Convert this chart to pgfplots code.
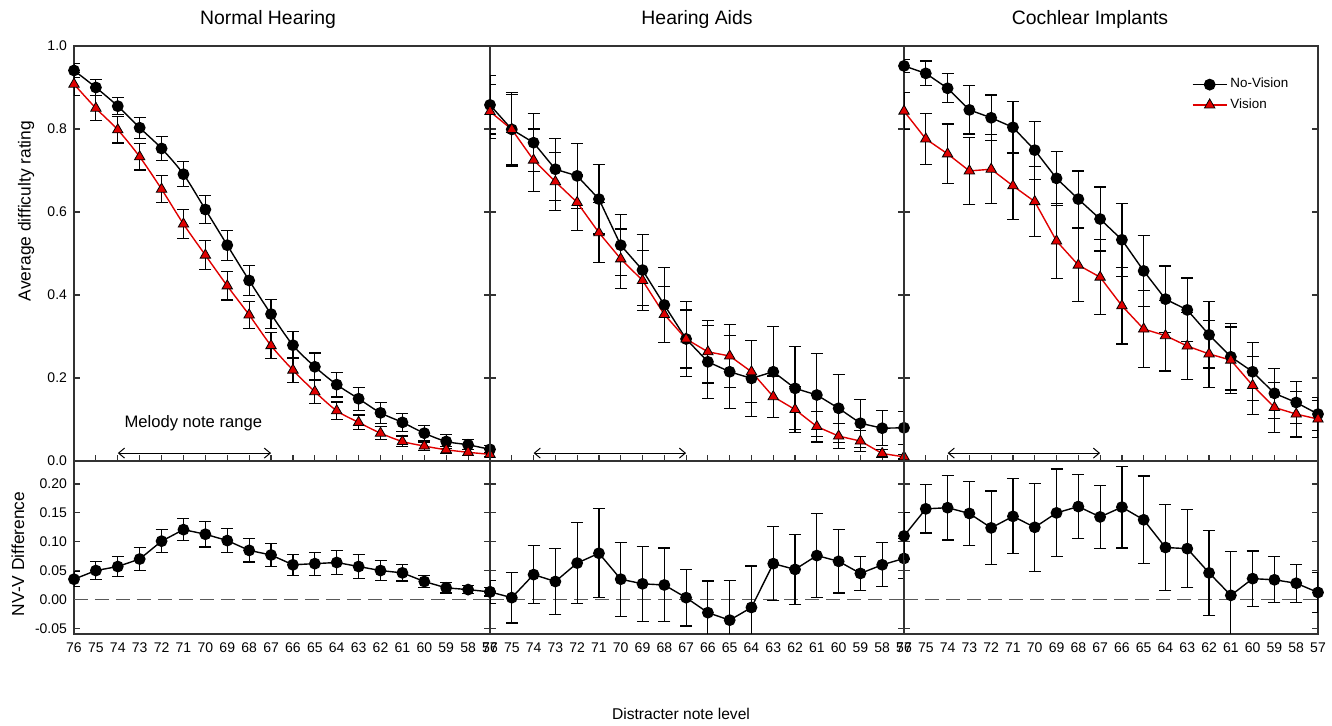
\documentclass[border=0pt]{standalone}
\usepackage{pgfplots}
\pgfplotsset{compat=1.18}
\usepackage{pgfplotstable}
\usepackage{fontspec}
\setmainfont{Liberation Sans}
\usetikzlibrary{arrows.meta}
\definecolor{axgray}{HTML}{333333}
\definecolor{vred}{HTML}{E00000}

\pgfplotstableread{
x nv nve v ve d de
76 0.941 0.016 0.908 0.028 0.035 0.013
75 0.900 0.020 0.850 0.030 0.050 0.016
74 0.855 0.020 0.798 0.032 0.057 0.017
73 0.803 0.025 0.733 0.032 0.070 0.020
72 0.753 0.028 0.655 0.033 0.101 0.020
71 0.691 0.030 0.571 0.035 0.121 0.019
70 0.606 0.033 0.496 0.035 0.113 0.022
69 0.520 0.036 0.422 0.034 0.102 0.021
68 0.435 0.036 0.352 0.033 0.085 0.020
67 0.354 0.035 0.278 0.031 0.077 0.020
66 0.279 0.033 0.219 0.029 0.060 0.018
65 0.227 0.033 0.167 0.028 0.062 0.020
64 0.184 0.030 0.121 0.021 0.064 0.021
63 0.150 0.028 0.093 0.018 0.057 0.021
62 0.116 0.025 0.067 0.016 0.050 0.017
61 0.093 0.022 0.047 0.013 0.046 0.014
60 0.067 0.018 0.036 0.010 0.031 0.011
59 0.047 0.017 0.027 0.008 0.020 0.009
58 0.039 0.012 0.021 0.007 0.017 0.007
57 0.028 0.010 0.016 0.005 0.013 0.007
}\tNH

\pgfplotstableread{
x nv nve v ve d de
76 0.858 0.070 0.842 0.065 0.013 0.020
75 0.799 0.088 0.799 0.085 0.003 0.044
74 0.767 0.070 0.725 0.075 0.043 0.050
73 0.703 0.075 0.673 0.070 0.031 0.057
72 0.687 0.078 0.623 0.068 0.063 0.070
71 0.631 0.084 0.550 0.072 0.080 0.077
70 0.520 0.074 0.487 0.072 0.035 0.064
69 0.460 0.085 0.435 0.073 0.027 0.065
68 0.376 0.091 0.353 0.068 0.025 0.064
67 0.294 0.090 0.294 0.070 0.003 0.049
66 0.239 0.088 0.263 0.075 -0.023 0.055
65 0.215 0.088 0.253 0.075 -0.036 0.069
64 0.199 0.092 0.215 0.075 -0.014 0.072
63 0.215 0.110 0.155 0.050 0.062 0.064
62 0.175 0.100 0.124 0.055 0.052 0.061
61 0.159 0.100 0.083 0.037 0.076 0.073
60 0.127 0.082 0.060 0.030 0.066 0.055
59 0.091 0.058 0.048 0.025 0.045 0.030
58 0.079 0.042 0.018 0.010 0.060 0.038
57 0.080 0.040 0.010 0.005 0.071 0.035
}\tHA

\pgfplotstableread{
x nv nve v ve d de
76 0.952 0.016 0.843 0.045 0.110 0.040
75 0.934 0.030 0.776 0.061 0.157 0.042
74 0.898 0.035 0.740 0.072 0.159 0.056
73 0.846 0.058 0.699 0.080 0.149 0.055
72 0.827 0.055 0.703 0.083 0.124 0.064
71 0.804 0.063 0.663 0.081 0.144 0.065
70 0.749 0.070 0.625 0.084 0.125 0.076
69 0.681 0.065 0.530 0.090 0.150 0.076
68 0.631 0.068 0.472 0.088 0.161 0.055
67 0.583 0.077 0.443 0.090 0.143 0.055
66 0.533 0.088 0.374 0.092 0.160 0.071
65 0.458 0.085 0.318 0.093 0.138 0.076
64 0.390 0.080 0.302 0.085 0.090 0.074
63 0.364 0.077 0.277 0.080 0.088 0.068
62 0.304 0.080 0.258 0.080 0.046 0.074
61 0.251 0.080 0.243 0.080 0.007 0.076
60 0.215 0.070 0.182 0.070 0.036 0.048
59 0.163 0.060 0.129 0.060 0.034 0.040
58 0.141 0.050 0.113 0.055 0.028 0.033
57 0.113 0.040 0.101 0.045 0.012 0.035
}\tCI

\tikzset{
  melody/.style={line width=0.5pt, {Straight Barb[length=3pt,width=5pt]}-{Straight Barb[length=3pt,width=5pt]}},
}

\pgfplotsset{
  panel/.style={scale only axis, anchor=south west, xmin=57, xmax=76, x dir=reverse,
    xtick={57,58,...,76}, tick align=inside, axis line style={axgray, line width=0.8pt},
    major tick style={axgray, line width=0.6pt}, major tick length=3pt,
    ticklabel style={font=\fontsize{7}{8}\selectfont},
    /pgf/number format/assume math mode=true, clip marker paths=false},
  toppanel/.style={panel, width=#1, height=207.5pt, ymin=0, ymax=1, xtick pos=bottom,
    ytick={0,0.2,0.4,0.6,0.8,1.0}, xticklabels={}, yticklabels={}},
  botpanel/.style={panel, width=#1, height=86.5pt, ymin=-0.06, ymax=0.24,
    ytick={-0.05,0,0.05,0.1,0.15,0.2}, yticklabels={}, x tick style={draw=none},
    xticklabel style={yshift=-1pt}},
  nvplot/.style={black, line width=0.7pt, mark=*, mark size=2.6pt, mark options={solid, black},
    error bars/.cd, y dir=both, y explicit, error bar style={black, line width=0.6pt},
    error mark options={rotate=90, mark size=3pt, black, line width=0.6pt}},
  vplot/.style={vred, line width=0.7pt, mark=triangle*, mark size=3pt,
    mark options={solid, fill=vred, draw=black, line width=0.4pt},
    error bars/.cd, y dir=both, y explicit, error bar style={black, line width=0.6pt},
    error mark options={rotate=90, mark size=3pt, black, line width=0.6pt}},
  zeroline/.style={black!65, line width=0.6pt, dash pattern=on 7pt off 3.5pt, forget plot},
}

\begin{document}
\begin{tikzpicture}
\useasboundingbox (0,0) rectangle (666pt,363pt);

% ---------- top panels ----------
\begin{axis}[toppanel=208pt, at={(37pt,132.5pt)},
  yticklabels={0.0,0.2,0.4,0.6,0.8,1.0}]
  \addplot[smooth, nvplot] table[x=x, y=nv, y error=nve] {\tNH};
  \addplot[smooth, vplot] table[x=x, y=v, y error=ve] {\tNH};
  \draw[melody] (axis cs:74,0.019) -- (axis cs:67,0.019);
  \node[font=\fontsize{8.3}{10}\selectfont] at (axis cs:70.55,0.092) {Melody note range};
\end{axis}

\begin{axis}[toppanel=207pt, at={(245pt,132.5pt)}]
  \addplot[nvplot] table[x=x, y=nv, y error=nve] {\tHA};
  \addplot[vplot] table[x=x, y=v, y error=ve] {\tHA};
  \draw[melody] (axis cs:74,0.019) -- (axis cs:67,0.019);
\end{axis}

\begin{axis}[toppanel=207pt, at={(452pt,132.5pt)},
  legend style={draw=none, fill=none, at={(0.68,0.94)}, anchor=north west,
    font=\fontsize{6.7}{8}\selectfont, row sep=0.8pt, nodes={inner sep=1.5pt}},
  legend cell align=left]
  \addplot[nvplot] table[x=x, y=nv, y error=nve] {\tCI};
  \addlegendentry{No-Vision}
  \addplot[vplot] table[x=x, y=v, y error=ve] {\tCI};
  \addlegendentry{Vision}
  \draw[melody] (axis cs:74,0.019) -- (axis cs:67,0.019);
\end{axis}

% ---------- bottom panels ----------
\begin{axis}[botpanel=208pt, at={(37pt,46pt)},
  yticklabels={-0.05,0.00,0.05,0.10,0.15,0.20}]
  \addplot[zeroline] coordinates {(76,0) (57,0)};
  \addplot[nvplot] table[x=x, y=d, y error=de] {\tNH};
\end{axis}

\begin{axis}[botpanel=207pt, at={(245pt,46pt)}]
  \addplot[zeroline] coordinates {(76,0) (57,0)};
  \addplot[nvplot] table[x=x, y=d, y error=de] {\tHA};
\end{axis}

\begin{axis}[botpanel=207pt, at={(452pt,46pt)}]
  \addplot[zeroline] coordinates {(76,0) (57,0)};
  \addplot[nvplot] table[x=x, y=d, y error=de] {\tCI};
\end{axis}

% ---------- titles and labels ----------
\node[font=\fontsize{9.7}{11}\selectfont] at (134pt,353pt) {Normal Hearing};
\node[font=\fontsize{9.7}{11}\selectfont] at (348.5pt,353pt) {Hearing Aids};
\node[font=\fontsize{9.7}{11}\selectfont] at (545pt,353pt) {Cochlear Implants};
\node[font=\fontsize{8.7}{10}\selectfont, rotate=90] at (13pt,257.5pt) {Average difficulty rating};
\node[font=\fontsize{8.7}{10}\selectfont, rotate=90] at (9pt,86pt) {NV-V Difference};
\node[font=\fontsize{7.8}{9}\selectfont] at (340.5pt,6pt) {Distracter note level};
\end{tikzpicture}
\end{document}
